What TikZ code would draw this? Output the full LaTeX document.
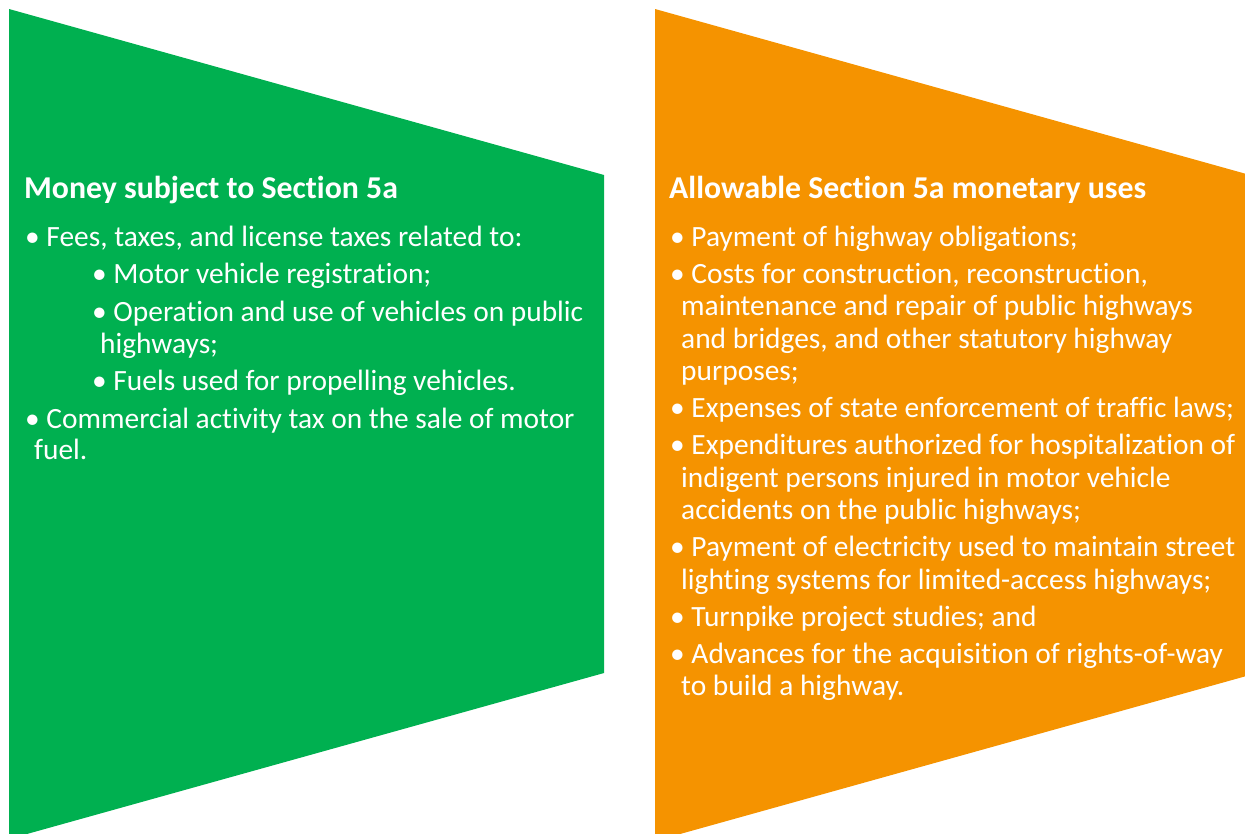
\documentclass[tikz,border=0pt]{standalone}
\usepackage{fontspec}
\setmainfont{Carlito}[Ligatures={NoCommon}]
\definecolor{mygreen}{HTML}{00B050}
\definecolor{myorange}{HTML}{F59300}
\tikzset{
  txt/.style={anchor=base west, inner sep=0pt, text=white, font=\fontsize{29.4}{32}\selectfont},
  ttl/.style={anchor=base west, inner sep=0pt, text=white, font=\fontsize{31.8}{34}\selectfont\bfseries},
}
\begin{document}
\begin{tikzpicture}[x=1pt,y=-1pt]
\useasboundingbox (0,0) rectangle (1245,833);
\begin{scope}
\clip (0,0) rectangle (1245,833);
\fill[mygreen] (9,9) -- (604,175) -- (604,673) -- (9,839) -- cycle;
\fill[myorange] (655,9) -- (1250,175) -- (1250,675) -- (655,841) -- cycle;
\end{scope}
% left column
\node[ttl] (lt) at (24,198) {Money subject to Section 5a};
\node[txt] (l1) at (25,246) {\textbullet\ Fees, taxes, and license taxes related to:};
\node[txt] (l2) at (92,283) {\textbullet\ Motor vehicle registration;};
\node[txt] (l3) at (92,321) {\textbullet\ Operation and use of vehicles on public};
\node[txt] (l3b) at (100,353) {highways;};
\node[txt] (l4) at (92,390) {\textbullet\ Fuels used for propelling vehicles.};
\node[txt] (l5) at (25,428) {\textbullet\ Commercial activity tax on the sale of motor};
\node[txt] (l5b) at (34,459) {fuel.};
% right column
\node[ttl] (rt) at (669,198) {Allowable Section 5a monetary uses};
\node[txt] (r1) at (670,246) {\textbullet\ Payment of highway obligations;};
\node[txt] (r2) at (670,283) {\textbullet\ Costs for construction, reconstruction,};
\node[txt] (r2b) at (681,315) {maintenance and repair of public highways};
\node[txt] (r2c) at (681,348) {and bridges, and other statutory highway};
\node[txt] (r2d) at (681,380) {purposes;};
\node[txt] (r3) at (670,417) {\textbullet\ Expenses of state enforcement of traffic laws;};
\node[txt] (r4) at (670,454) {\textbullet\ Expenditures authorized for hospitalization of};
\node[txt] (r4b) at (681,487) {indigent persons injured in motor vehicle};
\node[txt] (r4c) at (681,519) {accidents on the public highways;};
\node[txt] (r5) at (670,556) {\textbullet\ Payment of electricity used to maintain street};
\node[txt] (r5b) at (681,589) {lighting systems for limited-access highways;};
\node[txt] (r6) at (670,626) {\textbullet\ Turnpike project studies; and};
\node[txt] (r7) at (670,663) {\textbullet\ Advances for the acquisition of rights-of-way};
\node[txt] (r7b) at (681,695) {to build a highway.};
\end{tikzpicture}
\end{document}
